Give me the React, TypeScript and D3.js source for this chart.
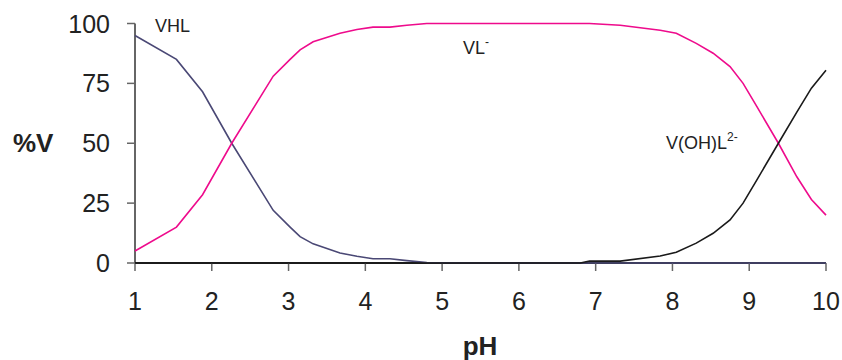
import React from 'react';
import * as d3 from 'd3';

// pH grid and species distribution (%V)
const ph = [1.0, 1.54, 1.88, 2.26, 2.8, 3.02, 3.15, 3.32, 3.67, 3.89, 4.1, 4.32, 4.54, 4.8, 5.5, 6.2, 6.8, 6.92, 7.32, 7.84, 8.05, 8.31, 8.53, 8.75, 8.92, 9.1, 9.38, 9.62, 9.81, 10.0];
const vhl = [95, 85, 71.5, 50, 22, 15, 11, 8, 4.2, 2.8, 1.8, 1.8, 1.0, 0.2, 0, 0, 0, 0, 0, 0, 0, 0, 0, 0, 0, 0, 0, 0, 0, 0];
const vl = [5, 15, 28.5, 50, 78, 85, 89, 92.4, 95.9, 97.5, 98.5, 98.5, 99.3, 100, 100, 100, 100, 100, 99.3, 97.2, 95.9, 91.7, 87.6, 82, 75, 65.3, 50, 36, 26.5, 20];
const vohl = [0, 0, 0, 0, 0, 0, 0, 0, 0, 0, 0, 0, 0, 0, 0, 0, 0, 0.8, 0.8, 2.9, 4.5, 8.3, 12.4, 18, 25, 34.7, 50, 63, 73, 80.5];

const xTicks = [1, 2, 3, 4, 5, 6, 7, 8, 9, 10];
const yTicks = [0, 25, 50, 75, 100];

const W = 842;
const H = 360;
const FONT = '"Liberation Sans", Arial, sans-serif';

export default function App() {
  const x = d3.scaleLinear().domain([1, 10]).range([135, 826]);
  const y = d3.scaleLinear().domain([0, 100]).range([263, 23.5]);

  const line = (vals: number[]) =>
    d3.line<number>()
      .x((_, i) => x(ph[i]))
      .y(d => y(d))(vals) || '';

  return (
    <div style={{ position: 'absolute', left: 0, top: 0 }}>
      <svg width={W} height={H} style={{ display: 'block', background: '#fff' }} fontFamily={FONT}>
        {/* y axis */}
        <line x1={135} x2={135} y1={y(100)} y2={y(0)} stroke="#666" strokeWidth={2} />
        {yTicks.map(t => (
          <g key={t}>
            <line x1={127} x2={135} y1={y(t)} y2={y(t)} stroke="#666" strokeWidth={1.5} />
            <text x={110} y={y(t)} dy="0.36em" textAnchor="end" fontSize={25} fill="#222">{t}</text>
          </g>
        ))}
        {/* x axis */}
        <line x1={x(1)} x2={x(10)} y1={y(0)} y2={y(0)} stroke="#222" strokeWidth={2} />
        {xTicks.map(t => (
          <g key={t}>
            <line x1={x(t)} x2={x(t)} y1={y(0)} y2={y(0) + 8} stroke="#666" strokeWidth={1.5} />
            <text x={x(t)} y={310} textAnchor="middle" fontSize={25} fill="#222">{t}</text>
          </g>
        ))}

        {/* curves */}
        <path d={line(vhl)} fill="none" stroke="#4a4875" strokeWidth={1.6} />
        <path d={line(vl)} fill="none" stroke="#ee0b8c" strokeWidth={1.6} />
        <path d={line(vohl)} fill="none" stroke="#1a1a1a" strokeWidth={1.6} />

        {/* species labels */}
        <text x={155} y={32} fontSize={18} fill="#222">VHL</text>
        <text x={463} y={54} fontSize={18} fill="#222">
          VL<tspan fontSize={12} dy={-8}>-</tspan>
        </text>
        <text x={666} y={149} fontSize={18} fill="#222">
          V(OH)L<tspan fontSize={12} dy={-8}>2-</tspan>
        </text>

        {/* axis titles */}
        <text x={13} y={143} dy="0.36em" fontSize={26} fontWeight="bold" fill="#222">%V</text>
        <text x={480} y={355} textAnchor="middle" fontSize={26} fontWeight="bold" fill="#222">pH</text>
      </svg>
    </div>
  );
}
